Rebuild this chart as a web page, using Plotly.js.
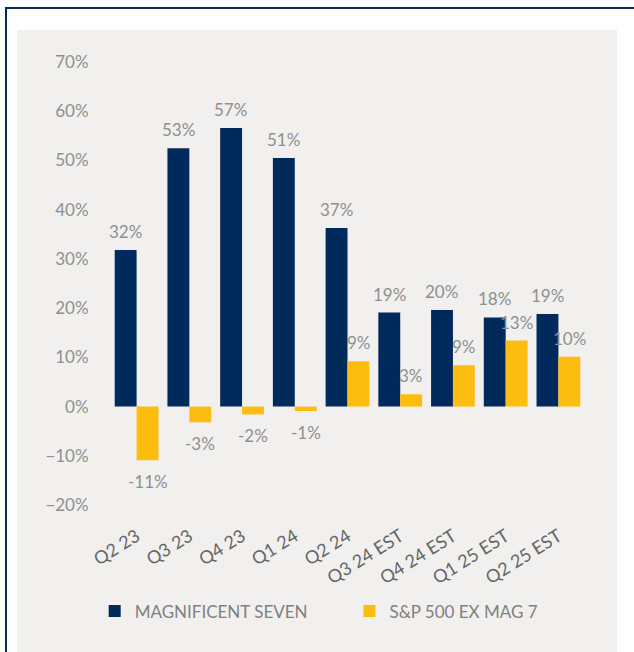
<!DOCTYPE html>
<html>
<head>
<meta charset="utf-8">
<script src="https://cdn.plot.ly/plotly-3.0.1.min.js"></script>
<style>
  html, body { margin: 0; padding: 0; background: #ffffff; }
  #frame {
    position: absolute; left: 5px; top: 7px; width: 629px; height: 645px;
    border-left: 2px solid #0b2a5b; border-top: 2px solid #0b2a5b;
  }
  #chart { position: absolute; left: 17px; top: 30px; width: 600px; height: 622px; }
</style>
</head>
<body>
<div id="frame"></div>
<div id="chart"></div>
<script>
// quarters on the x axis
var quarters = ['Q2 23', 'Q3 23', 'Q4 23', 'Q1 24', 'Q2 24',
  'Q3 24 EST', 'Q4 24 EST', 'Q1 25 EST', 'Q2 25 EST'];

// earnings growth, percent
var magSeven = [31.8, 52.5, 56.6, 50.5, 36.3, 19.1, 19.6, 18.1, 18.8];
var exMag7 = [-10.9, -3.2, -1.6, -0.9, 9.2, 2.5, 8.4, 13.4, 10.1];

// printed labels
var magSevenLabels = ['32%', '53%', '57%', '51%', '37%', '19%', '20%', '18%', '19%'];
var exMag7Labels = ['-11%', '-3%', '-2%', '-1%', '9%', '3%', '9%', '13%', '10%'];

var FONT = 'Lato, "Open Sans", sans-serif';
var GREY = '#8f8f8f';

var traces = [{
  type: 'bar',
  name: 'MAGNIFICENT SEVEN',
  x: quarters,
  y: magSeven,
  marker: { color: '#002a5c' },
  legend: 'legend',
  hoverinfo: 'none'
}, {
  type: 'bar',
  name: 'S&P 500 EX MAG 7',
  x: quarters,
  y: exMag7,
  marker: { color: '#fdbd10' },
  legend: 'legend2',
  hoverinfo: 'none'
}];

// value labels sit a little further off the bars than plotly's own bar text
var annotations = [];
function addLabels(values, labels, shift) {
  for (var i = 0; i < values.length; i++) {
    var up = values[i] >= 0;
    annotations.push({
      x: quarters[i], y: values[i], xref: 'x', yref: 'y',
      text: labels[i], showarrow: false,
      xshift: shift, yshift: up ? 6 : -9,
      yanchor: up ? 'bottom' : 'top',
      font: { family: FONT, size: 17, color: GREY }
    });
  }
}
addLabels(magSeven, magSevenLabels, -11.1);
addLabels(exMag7, exMag7Labels, 11.1);

var legendFont = { family: FONT, size: 17, color: '#808080' };

var layout = {
  width: 600,
  height: 622,
  margin: { l: 90, r: 29, t: 32, b: 147, autoexpand: false },
  paper_bgcolor: '#f1f0ee',
  plot_bgcolor: '#f1f0ee',
  font: { family: FONT, size: 17, color: GREY },
  barmode: 'group',
  bargap: 0.17,
  bargroupgap: 0,
  showlegend: true,
  annotations: annotations,
  legend: {
    orientation: 'h',
    x: -0.0256, xanchor: 'left',
    y: -0.2404, yanchor: 'middle',
    font: legendFont,
    bgcolor: 'rgba(0,0,0,0)'
  },
  legend2: {
    orientation: 'h',
    x: 0.504, xanchor: 'left',
    y: -0.2404, yanchor: 'middle',
    font: legendFont,
    bgcolor: 'rgba(0,0,0,0)'
  },
  xaxis: {
    type: 'category',
    tickangle: -32,
    ticks: 'outside', ticklen: 13, tickcolor: 'rgba(0,0,0,0)',
    showline: false, showgrid: false, zeroline: false,
    tickfont: { family: FONT, size: 18, color: '#666666' }
  },
  yaxis: {
    range: [-20, 70],
    dtick: 10,
    ticksuffix: '%',
    ticks: 'outside', ticklen: 14, tickcolor: 'rgba(0,0,0,0)',
    showline: false, showgrid: false, zeroline: false,
    tickfont: { family: FONT, size: 17, color: GREY }
  }
};

Plotly.newPlot('chart', traces, layout, { displayModeBar: false, staticPlot: true });
</script>
</body>
</html>
